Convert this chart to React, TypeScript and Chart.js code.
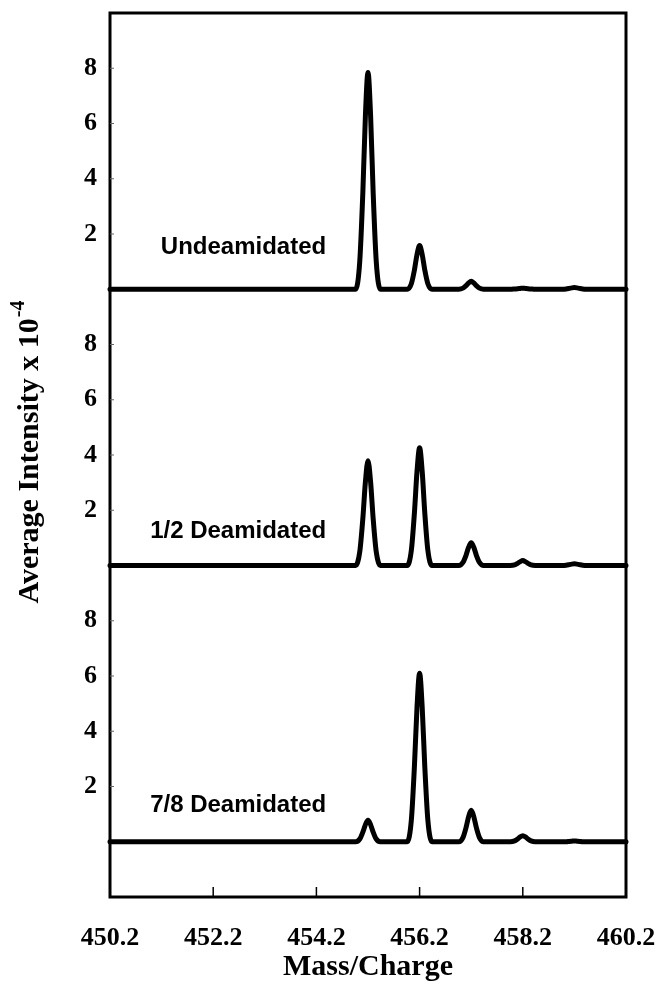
import React, { useEffect, useRef } from 'react';
import { Chart, registerables } from 'chart.js';

Chart.register(...registerables);

// m/z sample positions (shared by the three spectra)
const massCharge = [
  450.2,
  454.96, 455.04, 455.10, 455.15, 455.20, 455.25, 455.30, 455.36, 455.44,
  455.96, 456.04, 456.10, 456.15, 456.20, 456.25, 456.30, 456.36, 456.44,
  456.96, 457.04, 457.10, 457.15, 457.20, 457.25, 457.30, 457.36, 457.44,
  457.96, 458.04, 458.10, 458.15, 458.20, 458.25, 458.30, 458.36, 458.44,
  458.96, 459.04, 459.10, 459.15, 459.20, 459.25, 459.30, 459.36, 459.44,
  460.2,
];

// Average intensity x 10^-4
const undeamidated = [
  0,
  0, 1.0, 3.5, 6.3, 7.85, 6.3, 3.5, 1.0, 0,
  0, 0.2, 0.7, 1.26, 1.58, 1.26, 0.7, 0.2, 0,
  0, 0.04, 0.13, 0.23, 0.29, 0.23, 0.13, 0.04, 0,
  0, 0.01, 0.02, 0.03, 0.04, 0.03, 0.02, 0.01, 0,
  0, 0.01, 0.03, 0.05, 0.06, 0.05, 0.03, 0.01, 0,
  0,
];

const halfDeamidated = [
  0,
  0, 0.49, 1.7, 3.03, 3.79, 3.03, 1.7, 0.49, 0,
  0, 0.55, 1.92, 3.41, 4.26, 3.41, 1.92, 0.55, 0,
  0, 0.11, 0.37, 0.66, 0.82, 0.66, 0.37, 0.11, 0,
  0, 0.02, 0.08, 0.14, 0.18, 0.14, 0.08, 0.02, 0,
  0, 0.01, 0.03, 0.05, 0.06, 0.05, 0.03, 0.01, 0,
  0,
];

const sevenEighthsDeamidated = [
  0,
  0, 0.1, 0.35, 0.62, 0.78, 0.62, 0.35, 0.1, 0,
  0, 0.79, 2.75, 4.88, 6.1, 4.88, 2.75, 0.79, 0,
  0, 0.15, 0.51, 0.91, 1.14, 0.91, 0.51, 0.15, 0,
  0, 0.03, 0.1, 0.18, 0.22, 0.18, 0.1, 0.03, 0,
  0, 0, 0.01, 0.02, 0.03, 0.02, 0.01, 0, 0,
  0,
];

const xTickValues = [450.2, 452.2, 454.2, 456.2, 458.2, 460.2];
const yTickValues = [2, 4, 6, 8];
const panelLabels = ['Undeamidated', '1/2 Deamidated', '7/8 Deamidated'];

const panelAxes = ['yTop', 'yMid', 'yBot'];
const labelAnchorX = 454.39;
const labelAnchorY = [1.5, 1.25, 1.3];

const SERIF = '"Liberation Serif", "Times New Roman", Times, serif';
const SANS = '"Liberation Sans", Arial, Helvetica, sans-serif';

const framePlugin = {
  id: 'framePlugin',
  afterDatasetsDraw(chart: any) {
    const { ctx, chartArea: a, scales } = chart;
    ctx.save();
    ctx.strokeStyle = '#000';
    ctx.lineWidth = 3;
    ctx.strokeRect(a.left, a.top, a.right - a.left, a.bottom - a.top);

    // inward x ticks
    ctx.lineWidth = 1.5;
    xTickValues.slice(1, -1).forEach((v) => {
      const px = scales.x.getPixelForValue(v);
      ctx.beginPath();
      ctx.moveTo(px, a.bottom);
      ctx.lineTo(px, a.bottom - 10);
      ctx.stroke();
    });

    // tiny inward y ticks
    ctx.lineWidth = 1;
    ctx.strokeStyle = '#666';
    panelAxes.forEach((id) => {
      yTickValues.forEach((v) => {
        const py = scales[id].getPixelForValue(v);
        ctx.beginPath();
        ctx.moveTo(a.left, py);
        ctx.lineTo(a.left + 4, py);
        ctx.stroke();
      });
    });

    // panel labels
    ctx.fillStyle = '#000';
    ctx.font = `bold 24px ${SANS}`;
    ctx.textAlign = 'right';
    ctx.textBaseline = 'middle';
    panelLabels.forEach((t, i) => {
      ctx.fillText(
        t,
        scales.x.getPixelForValue(labelAnchorX),
        scales[panelAxes[i]].getPixelForValue(labelAnchorY[i])
      );
    });

    // y-axis title with superscript
    const main = 'Average Intensity x 10';
    const sup = '-4';
    const mainFont = `bold 30px ${SERIF}`;
    const supFont = `bold 20px ${SERIF}`;
    ctx.font = mainFont;
    const w1 = ctx.measureText(main).width;
    ctx.font = supFont;
    const w2 = ctx.measureText(sup).width;
    const total = w1 + w2 + 1;
    ctx.translate(30, (a.top + a.bottom) / 2 - 3);
    ctx.rotate(-Math.PI / 2);
    ctx.textAlign = 'left';
    ctx.textBaseline = 'middle';
    ctx.font = mainFont;
    ctx.fillText(main, -total / 2, 0);
    ctx.font = supFont;
    ctx.fillText(sup, -total / 2 + w1 + 1, -11);
    ctx.restore();
  },
};

const yCommon = (min: number, max: number, weight: number) => ({
  type: 'linear',
  position: 'left',
  stack: 'panels',
  stackWeight: weight,
  min,
  max,
  afterBuildTicks: (s: any) => {
    s.ticks = yTickValues.map((v) => ({ value: v }));
  },
  afterFit: (s: any) => {
    s.width = 110;
    s.paddingTop = 0;
    s.paddingBottom = 0;
  },
  grid: { display: false, drawTicks: false },
  border: { display: false },
  ticks: {
    color: '#000',
    padding: 13,
    font: { family: SERIF, weight: 'bold', size: 26 },
  },
});

export default function App() {
  const ref = useRef<HTMLCanvasElement | null>(null);

  useEffect(() => {
    if (!ref.current) return;
    const toPoints = (ys: number[]) => massCharge.map((x, i) => ({ x, y: ys[i] }));
    const ds = (label: string, ys: number[], axis: string) => ({
      label,
      data: toPoints(ys),
      yAxisID: axis,
      xAxisID: 'x',
      borderColor: '#000',
      borderWidth: 5,
      pointRadius: 0,
      fill: false,
      cubicInterpolationMode: 'monotone',
      borderJoinStyle: 'round',
      borderCapStyle: 'round',
      clip: false,
    });
    const chart = new Chart(ref.current, {
      type: 'line',
      data: {
        datasets: [
          ds(panelLabels[0], undeamidated, 'yTop'),
          ds(panelLabels[1], halfDeamidated, 'yMid'),
          ds(panelLabels[2], sevenEighthsDeamidated, 'yBot'),
        ] as any,
      },
      options: {
        responsive: false,
        animation: false,
        layout: { padding: { top: 13, right: 33, left: 0, bottom: 0 } },
        plugins: { legend: { display: false }, tooltip: { enabled: false } },
        scales: {
          x: {
            type: 'linear',
            position: 'bottom',
            min: 450.2,
            max: 460.2,
            afterBuildTicks: (s: any) => {
              s.ticks = xTickValues.map((v) => ({ value: v }));
            },
            afterFit: (s: any) => {
              s.height = 93;
              s.paddingLeft = 0;
              s.paddingRight = 0;
            },
            grid: { display: false, drawTicks: false },
            border: { display: false },
            ticks: {
              color: '#000',
              padding: 26,
              maxRotation: 0,
              autoSkip: false,
              font: { family: SERIF, weight: 'bold', size: 26 },
              callback: (v: any) => Number(v).toFixed(1),
            },
            title: {
              display: true,
              text: 'Mass/Charge',
              color: '#000',
              font: { family: SERIF, weight: 'bold', size: 30 },
              padding: { top: 0, bottom: 5 },
            },
          },
          yBot: yCommon(-2, 10, 12),
          yMid: yCommon(0, 10, 10),
          yTop: yCommon(0, 10, 10),
        } as any,
      },
      plugins: [framePlugin],
    });
    return () => chart.destroy();
  }, []);

  return (
    <div style={{ position: 'fixed', left: 0, top: 0, width: 659, height: 990, background: '#fff' }}>
      <canvas ref={ref} width={659} height={990} style={{ display: 'block', width: 659, height: 990 }} />
    </div>
  );
}
